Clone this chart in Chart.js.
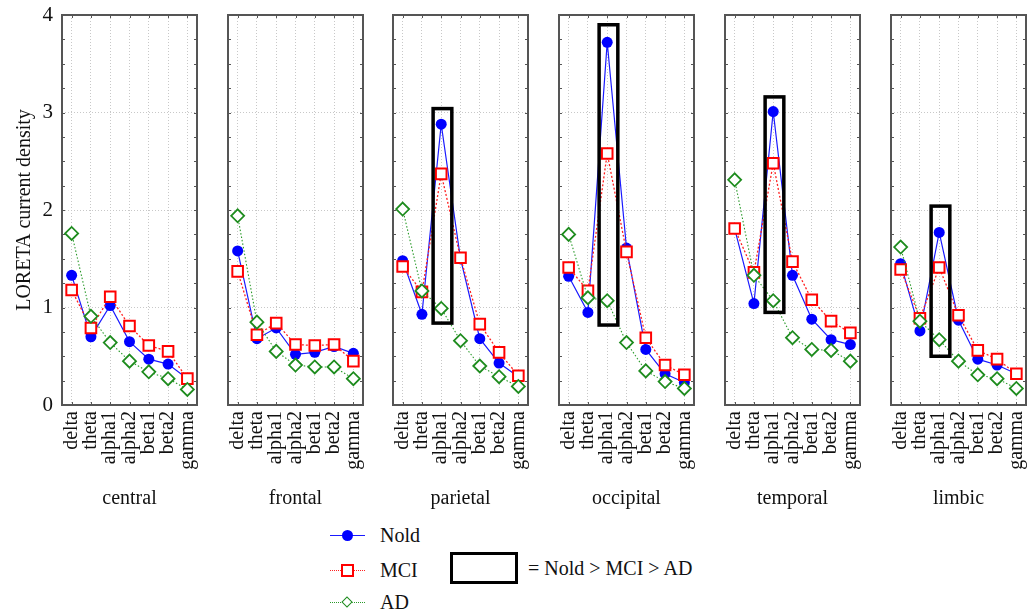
<!DOCTYPE html>
<html>
<head>
<meta charset="utf-8">
<script src="https://cdn.jsdelivr.net/npm/chart.js@4.4.1/dist/chart.umd.min.js"></script>
<style>
  html, body { margin:0; padding:0; background:#fff; width:1028px; height:615px; overflow:hidden; position:relative; font-family:'Liberation Serif','Times New Roman',serif; }
  canvas { position:absolute; top:0; }
  .lg { position:absolute; font-size:20px; color:#111; line-height:24px; }
  .sym { position:absolute; height:0; }
</style>
</head>
<body>
<script>
// ---------- data ----------
const categories = ['delta','theta','alpha1','alpha2','beta1','beta2','gamma'];
const regions = ['central','frontal','parietal','occipital','temporal','limbic'];
const yTicks = [0, 1, 2, 3, 4];

const noldValues = [
  [1.33, 0.70, 1.02, 0.65, 0.47, 0.42, 0.27],
  [1.58, 0.68, 0.79, 0.52, 0.54, 0.60, 0.53],
  [1.48, 0.93, 2.88, 1.50, 0.68, 0.43, 0.29],
  [1.32, 0.95, 3.72, 1.61, 0.57, 0.32, 0.23],
  [1.81, 1.04, 3.01, 1.33, 0.88, 0.67, 0.62],
  [1.45, 0.76, 1.77, 0.87, 0.47, 0.41, 0.32]
];
const mciValues = [
  [1.18, 0.79, 1.11, 0.81, 0.61, 0.55, 0.27],
  [1.37, 0.72, 0.84, 0.62, 0.61, 0.62, 0.45],
  [1.42, 1.16, 2.37, 1.51, 0.83, 0.54, 0.30],
  [1.41, 1.17, 2.58, 1.57, 0.69, 0.41, 0.31],
  [1.81, 1.36, 2.48, 1.47, 1.08, 0.86, 0.74],
  [1.39, 0.89, 1.41, 0.92, 0.56, 0.47, 0.32]
];
const adValues = [
  [1.76, 0.91, 0.64, 0.45, 0.34, 0.27, 0.16],
  [1.94, 0.85, 0.55, 0.41, 0.39, 0.39, 0.27],
  [2.01, 1.17, 0.99, 0.66, 0.40, 0.29, 0.19],
  [1.75, 1.10, 1.07, 0.64, 0.35, 0.24, 0.17],
  [2.31, 1.33, 1.07, 0.69, 0.57, 0.56, 0.45],
  [1.62, 0.86, 0.67, 0.45, 0.31, 0.27, 0.17]
];
// significance boxes (Nold > MCI > AD), on the alpha1 band
const boxCategory = 'alpha1';
const boxLow  = [null, null, 0.84, 0.82, 0.95, 0.50];
const boxHigh = [null, null, 3.04, 3.90, 3.16, 2.04];

// ---------- layout ----------
const panelLeft = [62, 228, 393, 559, 725, 891];
const panelWidth = 135;
const FONT = "'Liberation Serif','Times New Roman',serif";

const framePlugin = {
  id: 'frame',
  beforeDatasetsDraw(chart) {
    const {ctx, chartArea: a, scales: {x, y}} = chart;
    ctx.save();
    ctx.strokeStyle = '#555';
    ctx.lineWidth = 1;
    for (let v = 0; v <= 4.0001; v += 0.25) {
      const py = Math.round(y.getPixelForValue(v)) + 0.5;
      ctx.beginPath();
      ctx.moveTo(a.left, py); ctx.lineTo(a.left + 3, py);
      ctx.moveTo(a.right, py); ctx.lineTo(a.right - 3, py);
      ctx.stroke();
    }
    for (let i = 0; i < categories.length; i++) {
      const px = Math.round(x.getPixelForValue(i)) + 0.5;
      ctx.beginPath();
      ctx.moveTo(px, a.top); ctx.lineTo(px, a.top + 3);
      ctx.moveTo(px, a.bottom); ctx.lineTo(px, a.bottom - 3);
      ctx.stroke();
    }
    ctx.restore();
  },
  afterDatasetsDraw(chart) {
    const {ctx, chartArea: a, scales: {x, y}} = chart;
    const idx = chart.options.plugins.frame.panel;
    ctx.save();
    if (boxLow[idx] !== null) {
      const ci = categories.indexOf(boxCategory);
      const step = x.getPixelForValue(1) - x.getPixelForValue(0);
      const x0 = x.getPixelForValue(ci) - 0.42 * step;
      const x1 = x.getPixelForValue(ci) + 0.55 * step;
      const y0 = y.getPixelForValue(boxHigh[idx]);
      const y1 = y.getPixelForValue(boxLow[idx]);
      ctx.strokeStyle = '#000';
      ctx.lineWidth = 3.5;
      ctx.strokeRect(x0, y0, x1 - x0, y1 - y0);
    }
    ctx.strokeStyle = '#555';
    ctx.lineWidth = 2;
    ctx.strokeRect(a.left, a.top, a.right - a.left, a.bottom - a.top);
    ctx.restore();
  }
};

regions.forEach((region, i) => {
  const first = i === 0;
  const yAxisW = first ? 62 : 2;
  const rightPad = 3;
  const cv = document.createElement('canvas');
  const w = yAxisW + panelWidth + rightPad;
  cv.width = w; cv.height = 520;
  cv.style.width = w + 'px'; cv.style.height = '520px';
  cv.style.left = (panelLeft[i] - yAxisW) + 'px';
  document.body.appendChild(cv);

  new Chart(cv, {
    type: 'line',
    data: {
      labels: categories,
      datasets: [
        { label: 'Nold', data: noldValues[i], order: 3,
          borderColor: '#1a1aff', backgroundColor: '#0000ff', borderWidth: 1.2,
          pointStyle: 'circle', pointRadius: 5.5, pointBorderWidth: 0,
          pointBackgroundColor: '#0000ff' },
        { label: 'MCI', data: mciValues[i], order: 2,
          borderColor: '#ff2020', borderWidth: 1.3, borderDash: [2, 2],
          pointStyle: 'rect', pointRadius: 7.5, pointBorderWidth: 2,
          pointBorderColor: '#ff0000', pointBackgroundColor: '#ffffff' },
        { label: 'AD', data: adValues[i], order: 1,
          borderColor: '#2a9a2a', borderWidth: 1.1, borderDash: [1.5, 2],
          pointStyle: 'rectRot', pointRadius: 6.5, pointBorderWidth: 1.8,
          pointBorderColor: '#1e8c1e', pointBackgroundColor: '#ffffff' }
      ]
    },
    options: {
      responsive: false,
      animation: false,
      devicePixelRatio: 1,
      layout: { autoPadding: false, padding: { top: 15, right: rightPad, left: 0, bottom: 0 } },
      plugins: { legend: { display: false }, tooltip: { enabled: false }, frame: { panel: i } },
      scales: {
        x: {
          type: 'category',
          offset: true,
          grid: { display: true, offset: false, color: '#c8c8c8', lineWidth: 1, drawTicks: false },
          border: { display: false, dash: [1, 2] },
          ticks: { color: '#111', font: { family: FONT, size: 20 }, minRotation: 90, maxRotation: 90, padding: 6, autoSkip: false },
          title: { display: true, text: region, color: '#111', font: { family: FONT, size: 20 }, padding: { top: 0, bottom: 9 } },
          afterFit(s) { s.height = 115; s.paddingLeft = 0; s.paddingRight = 0; }
        },
        y: {
          min: 0, max: 4,
          afterBuildTicks(s) { s.ticks = yTicks.map(v => ({ value: v })); },
          grid: { display: true, color: (c) => (c.tick && (c.tick.value === 0 || c.tick.value === 4)) ? 'rgba(0,0,0,0)' : '#c8c8c8', lineWidth: 1, drawTicks: false },
          border: { display: false, dash: [1, 2] },
          ticks: { display: first, color: '#111', font: { family: FONT, size: 21 }, padding: 9 },
          title: { display: first, text: 'LORETA current density', color: '#111', font: { family: FONT, size: 20 }, padding: { top: 13, bottom: 0 } },
          afterFit(s) { s.width = yAxisW; s.paddingTop = 0; s.paddingBottom = 0; }
        }
      }
    },
    plugins: [framePlugin]
  });
});
</script>

<!-- legend -->
<div class="sym" style="left:330px;top:535px;width:35px;border-top:1.2px solid #1a1aff;"></div>
<div class="sym" style="left:342px;top:530px;width:11px;height:11px;border-radius:50%;background:#0000ff;"></div>
<div class="lg" style="left:380px;top:523px;">Nold</div>

<div class="sym" style="left:330px;top:570px;width:35px;border-top:1.3px dotted #ff2020;"></div>
<div class="sym" style="left:341px;top:564px;width:9px;height:9px;border:2px solid #ff0000;background:#fff;"></div>
<div class="lg" style="left:380px;top:558px;">MCI</div>

<div class="sym" style="left:330px;top:602px;width:35px;border-top:1.2px dotted #2a9a2a;"></div>
<div class="sym" style="left:343px;top:598px;width:6px;height:6px;border:1.6px solid #1e8c1e;background:#fff;transform:rotate(45deg);"></div>
<div class="lg" style="left:380px;top:590px;">AD</div>

<div class="sym" style="left:450px;top:552px;width:62px;height:26px;border:3px solid #000;"></div>
<div class="lg" style="left:528px;top:556px;">= Nold &gt; MCI &gt; AD</div>
</body>
</html>
